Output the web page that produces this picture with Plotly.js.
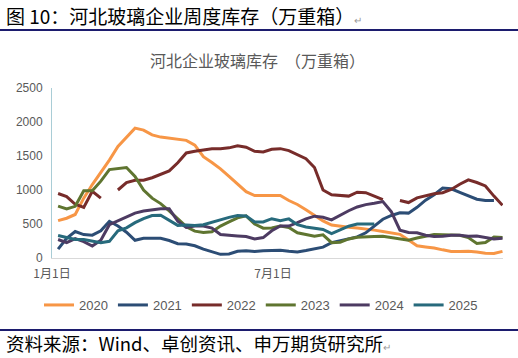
<!DOCTYPE html>
<html>
<head>
<meta charset="utf-8">
<script src="https://cdn.plot.ly/plotly-3.0.1.min.js"></script>
<style>html,body{margin:0;padding:0;background:#fff;}#chart{width:518px;height:358px;}</style>
</head>
<body>
<div id="chart"></div>
<script>
// Weekly inventory, 万重箱 (week 1 .. week 53)
const seriesNames = ['2020', '2021', '2022', '2023', '2024', '2025'];
const v2020 = [550,585,640,880,1080,1260,1440,1640,1770,1910,1880,1810,1778,1762,1750,1730,1660,1490,1405,1310,1200,1080,975,919,919,930,920,845,787,710,630,545,485,465,452,442,430,410,390,372,348,265,180,163,148,120,97,94,99,87,70,66,98];
const v2021 = [130,290,390,345,336,400,540,470,380,260,290,290,290,257,210,205,180,130,90,54,60,100,108,95,105,112,115,100,88,110,135,160,225,250,275,310,370,470,570,625,665,660,745,850,930,1030,1017,965,915,865,845,845,null];
const v2022 = [948,904,790,745,982,880,null,1000,1110,1144,1144,1180,1225,1280,1400,1545,1570,1590,1605,1605,1620,1650,1630,1570,1560,1600,1608,1580,1520,1460,1330,1000,930,920,910,968,960,910,860,null,845,815,885,915,945,960,1007,1085,1150,1110,1060,910,775];
const v2023 = [762,720,760,990,990,1130,1300,1310,1330,1200,1000,880,800,694,575,460,395,375,385,470,530,590,620,500,438,440,470,450,370,345,320,340,225,233,280,305,305,315,320,300,285,262,295,325,345,343,340,335,300,215,228,310,300];
const v2024 = [272,225,285,240,175,260,490,550,600,660,690,705,725,725,540,450,470,470,440,345,340,325,315,280,300,400,470,470,520,575,615,600,560,630,695,750,785,805,830,680,410,375,370,335,315,320,335,335,320,325,300,280,290];
const v2025 = [331,300,272,272,250,225,245,400,444,520,580,625,630,560,480,487,478,490,525,570,598,625,618,530,530,578,550,575,490,455,440,420,360,410,468,500,495,500];
const seriesValues = [v2020, v2021, v2022, v2023, v2024, v2025];
const tickDates = ['2021-01-01', '2021-07-01'];
const tickLabels = ['1月1日', '7月1日'];

const colors = ['#F79646', '#2C4D75', '#772C2A', '#5F7530', '#4D3B62', '#276A7C'];

function weekDate(i) {
  const d = new Date(Date.UTC(2021, 0, 6 + 7 * i));
  return d.toISOString().slice(0, 10);
}

const traces = seriesNames.map((name, k) => {
  const ys = seriesValues[k];
  return {
    type: 'scatter',
    mode: 'lines',
    name: name,
    x: ys.map((_, i) => weekDate(i)),
    y: ys,
    connectgaps: false,
    line: {color: colors[k], width: 3}
  };
});

const W = 451, H = 170, L = 52, T = 88;
function px(x) { return (x - L) / W; }
function py(y) { return (T + H - y) / H; }

const font = 'Liberation Sans, Arial, "Noto Sans CJK SC", sans-serif';
const cjk = '"Noto Sans CJK SC", "Liberation Sans", sans-serif';

const layout = {
  width: 518,
  height: 358,
  margin: {l: 52, r: 15, t: 88, b: 100},
  paper_bgcolor: '#ffffff',
  plot_bgcolor: '#ffffff',
  font: {family: font, size: 12, color: '#595959'},
  title: {
    text: '河北企业玻璃库存  （万重箱）',
    font: {family: cjk, size: 16, color: '#595959'},
    x: 257.5 / 518, xanchor: 'center', xref: 'container',
    y: 1 - 61 / 358, yanchor: 'middle', yref: 'container'
  },
  xaxis: {
    type: 'date',
    range: ['2021-01-01', '2022-01-05 10:00'],
    tickvals: tickDates,
    ticktext: tickLabels,
    showgrid: false,
    zeroline: false,
    showline: true,
    linecolor: '#D9D9D9',
    linewidth: 1,
    ticks: '',
    ticklabelstandoff: 5,
    tickfont: {family: cjk, size: 12, color: '#595959'}
  },
  yaxis: {
    range: [0, 2500],
    dtick: 500,
    tick0: 0,
    showgrid: false,
    zeroline: false,
    showline: true,
    linecolor: '#A9CDD6',
    linewidth: 1,
    ticks: '',
    ticklabelstandoff: 6,
    tickfont: {family: font, size: 12, color: '#595959'}
  },
  showlegend: true,
  legend: {
    orientation: 'h',
    x: px(261), xanchor: 'center',
    y: py(305), yanchor: 'middle',
    font: {family: font, size: 13, color: '#595959'},
    itemwidth: 30,
    tracegroupgap: 0,
    bgcolor: 'rgba(0,0,0,0)'
  },
  shapes: [
    {type: 'line', xref: 'paper', yref: 'paper', x0: px(0), x1: px(518), y0: py(30), y1: py(30), line: {color: '#1C1C6E', width: 2}},
    {type: 'line', xref: 'paper', yref: 'paper', x0: px(0), x1: px(518), y0: py(330), y1: py(330), line: {color: '#1C1C6E', width: 2}}
  ],
  annotations: [
    {xref: 'paper', yref: 'paper', x: px(4), y: py(15), xanchor: 'left', yanchor: 'middle', showarrow: false,
     text: '图 10：河北玻璃企业周度库存（万重箱）<span style="font-size:10px;color:#999">↵</span>',
     font: {family: cjk, size: 19, color: '#000000'}},
    {xref: 'paper', yref: 'paper', x: px(4), y: py(343), xanchor: 'left', yanchor: 'middle', showarrow: false,
     text: '资料来源：Wind、卓创资讯、申万期货研究所<span style="font-size:10px;color:#999">↵</span>',
     font: {family: cjk, size: 18.5, color: '#000000'}}
  ]
};

Plotly.newPlot('chart', traces, layout, {displayModeBar: false, staticPlot: true});
</script>
</body>
</html>
